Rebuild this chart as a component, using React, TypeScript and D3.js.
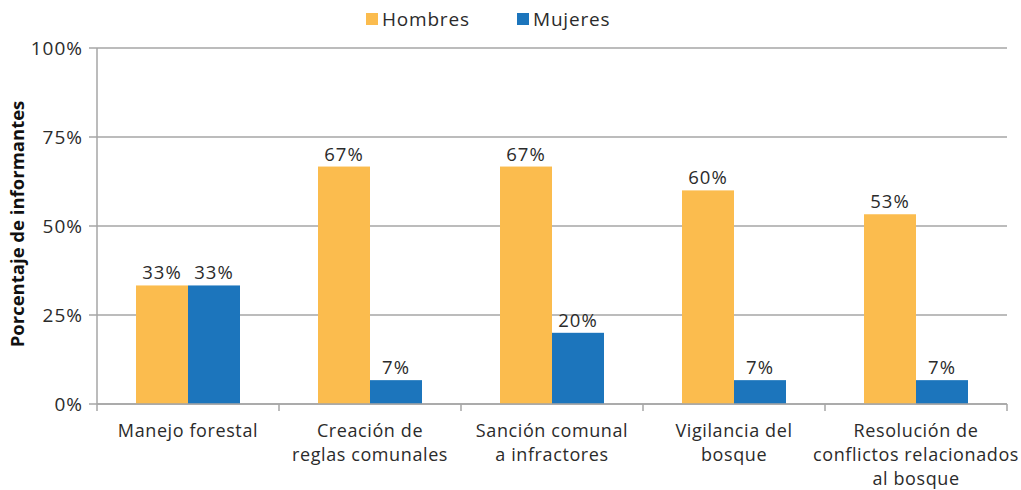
import React from "react";
import * as d3 from "d3";

const categories: string[][] = [
  ["Manejo forestal"],
  ["Creación de", "reglas comunales"],
  ["Sanción comunal", "a infractores"],
  ["Vigilancia del", "bosque"],
  ["Resolución de", "conflictos relacionados", "al bosque"],
];
const seriesNames = ["Hombres", "Mujeres"];
const hombres = [33.3, 66.7, 66.7, 60.0, 53.3];
const mujeres = [33.3, 6.7, 20.0, 6.7, 6.7];
const labelsHombres = ["33%", "67%", "67%", "60%", "53%"];
const labelsMujeres = ["33%", "7%", "20%", "7%", "7%"];
const yTicks = [0, 25, 50, 75, 100];
const colors = ["#FBBC4E", "#1C75BC"];

const W = 1021;
const H = 490;
const m = { left: 97, right: 14, top: 48, bottom: 86 };
const FONT = "'Open Sans', Lato, sans-serif";

export default function App() {
  const x = d3
    .scaleBand<number>()
    .domain(categories.map((_, i) => i))
    .range([m.left, W - m.right])
    .padding(0);
  const inner = d3
    .scaleBand<number>()
    .domain([0, 1])
    .range([0, x.bandwidth()])
    .paddingInner(0)
    .paddingOuter(0.75);
  const y = d3.scaleLinear().domain([0, 100]).range([H - m.bottom, m.top]);
  const series = [hombres, mujeres];
  const labels = [labelsHombres, labelsMujeres];
  const grid = "#A6A6A6";
  const txt = "#2b2b2b";
  const boundaries = d3.range(categories.length + 1).map((i) =>
    i < categories.length ? (x(i) as number) : (x(categories.length - 1) as number) + x.bandwidth()
  );

  return (
    <svg width={W} height={H} style={{ display: "block", position: "absolute", left: 0, top: 0 }} fontFamily={FONT}>
      <rect width={W} height={H} fill="#fff" />
      {yTicks.map((t) => (
        <g key={t}>
          <line x1={m.left - 8} x2={W - m.right} y1={y(t)} y2={y(t)} stroke={grid} strokeWidth={1.5} />
          <text x={83} y={y(t)} dy="0.36em" textAnchor="end" fontSize={19} letterSpacing={1} fill={txt}>
            {t}%
          </text>
        </g>
      ))}
      <line x1={m.left} x2={m.left} y1={m.top} y2={y(0)} stroke={grid} strokeWidth={1.5} />
      {boundaries.map((bx, i) => (
        <line key={i} x1={bx} x2={bx} y1={y(0)} y2={y(0) + 7} stroke={grid} strokeWidth={1.5} />
      ))}
      {series.map((vals, s) =>
        vals.map((v, i) => {
          const bx = (x(i) as number) + (inner(s) as number);
          return (
            <g key={`${s}-${i}`}>
              <rect x={bx} y={y(v)} width={inner.bandwidth()} height={y(0) - y(v)} fill={colors[s]} />
              <text
                x={bx + inner.bandwidth() / 2}
                y={y(v) - 6}
                textAnchor="middle"
                fontSize={18.5}
                letterSpacing={1}
                fill={txt}
              >
                {labels[s][i]}
              </text>
            </g>
          );
        })
      )}
      <line x1={m.left} x2={W - m.right} y1={y(0)} y2={y(0)} stroke={grid} strokeWidth={1.5} />
      {categories.map((lines, i) => (
        <text key={i} textAnchor="middle" fontSize={18} letterSpacing={0.6} fill={txt}>
          {lines.map((l, j) => (
            <tspan key={j} x={(x(i) as number) + x.bandwidth() / 2} y={437 + j * 24}>
              {l}
            </tspan>
          ))}
        </text>
      ))}
      <text
        transform={`translate(24, 224) rotate(-90)`}
        textAnchor="middle"
        fontSize={18.5}
        fontWeight="bold"
        fill="#111"
      >
        Porcentaje de informantes
      </text>
      {seriesNames.map((n, s) => {
        const lx = [366, 517][s];
        return (
          <g key={n}>
            <rect x={lx} y={13} width={12} height={12} fill={colors[s]} />
            <text x={lx + 16} y={26} fontSize={19} letterSpacing={0.8} fill={txt}>
              {n}
            </text>
          </g>
        );
      })}
    </svg>
  );
}
